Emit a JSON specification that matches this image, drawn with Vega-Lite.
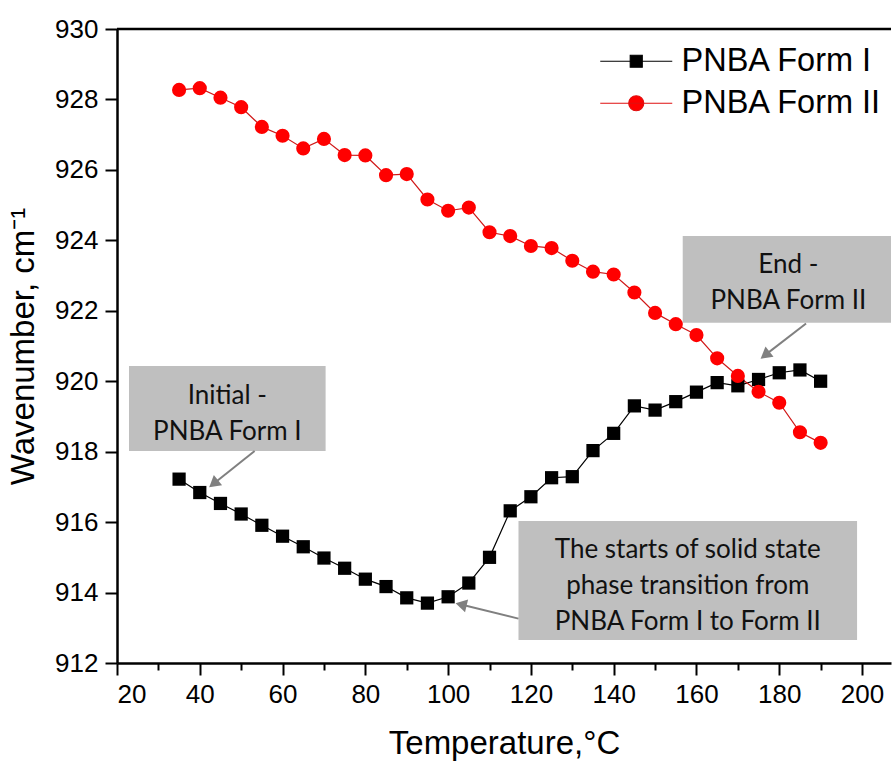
{
  "$schema": "https://vega.github.io/schema/vega-lite/v6.json",
  "width": 774,
  "height": 634,
  "autosize": {"type": "none"},
  "padding": {"left": 117, "top": 29, "right": 1, "bottom": 99},
  "background": "white",
  "config": {
    "view": {"stroke": null},
    "font": "Liberation Sans",
    "axis": {
      "domainColor": "black",
      "domainWidth": 2.5,
      "tickColor": "black",
      "tickWidth": 2,
      "grid": false,
      "labelFont": "Liberation Sans",
      "labelFontSize": 26,
      "labelColor": "black",
      "titleFont": "Liberation Sans",
      "titleFontSize": 33,
      "titleFontWeight": "normal",
      "titleColor": "black"
    }
  },
  "datasets": {
    "spectra": [
      {"T": 35, "W": 917.22, "form": "PNBA Form I"},
      {"T": 40, "W": 916.84, "form": "PNBA Form I"},
      {"T": 45, "W": 916.53, "form": "PNBA Form I"},
      {"T": 50, "W": 916.23, "form": "PNBA Form I"},
      {"T": 55, "W": 915.91, "form": "PNBA Form I"},
      {"T": 60, "W": 915.60, "form": "PNBA Form I"},
      {"T": 65, "W": 915.30, "form": "PNBA Form I"},
      {"T": 70, "W": 914.98, "form": "PNBA Form I"},
      {"T": 75, "W": 914.69, "form": "PNBA Form I"},
      {"T": 80, "W": 914.38, "form": "PNBA Form I"},
      {"T": 85, "W": 914.17, "form": "PNBA Form I"},
      {"T": 90, "W": 913.85, "form": "PNBA Form I"},
      {"T": 95, "W": 913.70, "form": "PNBA Form I"},
      {"T": 100, "W": 913.88, "form": "PNBA Form I"},
      {"T": 105, "W": 914.27, "form": "PNBA Form I"},
      {"T": 110, "W": 915.00, "form": "PNBA Form I"},
      {"T": 115, "W": 916.32, "form": "PNBA Form I"},
      {"T": 120, "W": 916.72, "form": "PNBA Form I"},
      {"T": 125, "W": 917.26, "form": "PNBA Form I"},
      {"T": 130, "W": 917.29, "form": "PNBA Form I"},
      {"T": 135, "W": 918.03, "form": "PNBA Form I"},
      {"T": 140, "W": 918.52, "form": "PNBA Form I"},
      {"T": 145, "W": 919.30, "form": "PNBA Form I"},
      {"T": 150, "W": 919.18, "form": "PNBA Form I"},
      {"T": 155, "W": 919.42, "form": "PNBA Form I"},
      {"T": 160, "W": 919.69, "form": "PNBA Form I"},
      {"T": 165, "W": 919.96, "form": "PNBA Form I"},
      {"T": 170, "W": 919.87, "form": "PNBA Form I"},
      {"T": 175, "W": 920.05, "form": "PNBA Form I"},
      {"T": 180, "W": 920.24, "form": "PNBA Form I"},
      {"T": 185, "W": 920.32, "form": "PNBA Form I"},
      {"T": 190, "W": 920.00, "form": "PNBA Form I"},
      {"T": 35, "W": 928.27, "form": "PNBA Form II"},
      {"T": 40, "W": 928.32, "form": "PNBA Form II"},
      {"T": 45, "W": 928.05, "form": "PNBA Form II"},
      {"T": 50, "W": 927.78, "form": "PNBA Form II"},
      {"T": 55, "W": 927.22, "form": "PNBA Form II"},
      {"T": 60, "W": 926.97, "form": "PNBA Form II"},
      {"T": 65, "W": 926.61, "form": "PNBA Form II"},
      {"T": 70, "W": 926.88, "form": "PNBA Form II"},
      {"T": 75, "W": 926.42, "form": "PNBA Form II"},
      {"T": 80, "W": 926.41, "form": "PNBA Form II"},
      {"T": 85, "W": 925.85, "form": "PNBA Form II"},
      {"T": 90, "W": 925.88, "form": "PNBA Form II"},
      {"T": 95, "W": 925.16, "form": "PNBA Form II"},
      {"T": 100, "W": 924.84, "form": "PNBA Form II"},
      {"T": 105, "W": 924.93, "form": "PNBA Form II"},
      {"T": 110, "W": 924.23, "form": "PNBA Form II"},
      {"T": 115, "W": 924.12, "form": "PNBA Form II"},
      {"T": 120, "W": 923.84, "form": "PNBA Form II"},
      {"T": 125, "W": 923.78, "form": "PNBA Form II"},
      {"T": 130, "W": 923.42, "form": "PNBA Form II"},
      {"T": 135, "W": 923.11, "form": "PNBA Form II"},
      {"T": 140, "W": 923.03, "form": "PNBA Form II"},
      {"T": 145, "W": 922.52, "form": "PNBA Form II"},
      {"T": 150, "W": 921.94, "form": "PNBA Form II"},
      {"T": 155, "W": 921.62, "form": "PNBA Form II"},
      {"T": 160, "W": 921.31, "form": "PNBA Form II"},
      {"T": 165, "W": 920.65, "form": "PNBA Form II"},
      {"T": 170, "W": 920.15, "form": "PNBA Form II"},
      {"T": 175, "W": 919.70, "form": "PNBA Form II"},
      {"T": 180, "W": 919.39, "form": "PNBA Form II"},
      {"T": 185, "W": 918.55, "form": "PNBA Form II"},
      {"T": 190, "W": 918.25, "form": "PNBA Form II"}
    ],
    "notes": [
      {"x1": 22.9, "x2": 70.4, "y1": 918.02, "y2": 920.43, "tx": 46.66, "ty": 919.59, "label": "Initial -\nPNBA Form I"},
      {"x1": 156.68, "x2": 207, "y1": 921.66, "y2": 924.12, "tx": 182.2, "ty": 923.3, "label": "End -\nPNBA Form II"},
      {"x1": 117.0, "x2": 198.8, "y1": 912.65, "y2": 916.03, "tx": 157.9, "ty": 915.2, "label": "The starts of solid state\nphase transition from\nPNBA Form I to Form II"}
    ],
    "arrows": [
      {"x1": 53.25, "y1": 918.02, "x2": 43.33, "y2": 917.09, "ang": 231},
      {"x1": 186.48, "y1": 921.64, "x2": 176.57, "y2": 920.74, "ang": 232},
      {"x1": 117.0, "y1": 913.26, "x2": 103.13, "y2": 913.66, "ang": 283.5}
    ]
  },
  "layer": [
    {
      "data": {"name": "spectra"},
      "transform": [{"filter": "datum.form === 'PNBA Form I'"}],
      "mark": {"type": "line", "strokeWidth": 1.2, "color": "#000000"},
      "encoding": {
        "x": {
          "field": "T",
          "type": "quantitative",
          "scale": {"domain": [20, 207], "nice": false, "zero": false},
          "axis": {
            "title": "Temperature,°C",
            "values": [20, 30, 40, 50, 60, 70, 80, 90, 100, 110, 120, 130, 140, 150, 160, 170, 180, 190, 200],
            "labelExpr": "datum.value % 20 === 0 ? datum.label : ''",
            "tickSize": {"condition": {"test": "datum.value % 20 === 0", "value": 12}, "value": 7},
            "labelPadding": 6,
            "titlePadding": 20
          }
        },
        "y": {
          "field": "W",
          "type": "quantitative",
          "scale": {"domain": [912, 930], "nice": false, "zero": false},
          "axis": {
            "title": "Wavenumber, cm⁻¹",
            "values": [912, 913, 914, 915, 916, 917, 918, 919, 920, 921, 922, 923, 924, 925, 926, 927, 928, 929, 930],
            "labelExpr": "datum.value % 2 === 0 ? datum.label : ''",
            "tickSize": {"condition": {"test": "datum.value % 2 === 0", "value": 12}, "value": 7},
            "labelPadding": 7,
            "titlePadding": 14
          }
        }
      }
    },
    {
      "data": {"name": "spectra"},
      "transform": [{"filter": "datum.form === 'PNBA Form II'"}],
      "mark": {"type": "line", "strokeWidth": 1.2, "color": "#d01818"},
      "encoding": {
        "x": {"field": "T", "type": "quantitative"},
        "y": {"field": "W", "type": "quantitative"}
      }
    },
    {
      "data": {"name": "spectra"},
      "transform": [{"filter": "datum.form === 'PNBA Form I'"}],
      "mark": {"type": "point", "shape": "square", "filled": true, "color": "#000000", "opacity": 1, "size": 175},
      "encoding": {
        "x": {"field": "T", "type": "quantitative"},
        "y": {"field": "W", "type": "quantitative"}
      }
    },
    {
      "data": {"name": "spectra"},
      "transform": [{"filter": "datum.form === 'PNBA Form II'"}],
      "mark": {"type": "point", "shape": "circle", "filled": true, "color": "#ff0000", "opacity": 1, "size": 200},
      "encoding": {
        "x": {"field": "T", "type": "quantitative"},
        "y": {"field": "W", "type": "quantitative"}
      }
    },
    {
      "description": "legend key: line with marker for each series; the layer itself draws no points",
      "data": {"name": "spectra"},
      "transform": [{"filter": "datum.T < 0"}],
      "mark": {"type": "point", "filled": true, "opacity": 1, "size": 900, "strokeWidth": 1.2},
      "encoding": {
        "x": {"field": "T", "type": "quantitative"},
        "y": {"field": "W", "type": "quantitative"},
        "shape": {
          "field": "form",
          "type": "nominal",
          "scale": {
            "domain": ["PNBA Form I", "PNBA Form II"],
            "range": ["M-2.4,0H2.4M-0.4,-0.4H0.4V0.4H-0.4Z", "M-2.4,0H2.4M0.5,0A0.5,0.5,0,1,1,-0.5,0A0.5,0.5,0,1,1,0.5,0Z"]
          },
          "legend": {
            "title": null,
            "orient": "none",
            "legendX": 503,
            "legendY": 16,
            "padding": 0,
            "labelFont": "Liberation Sans",
            "labelFontSize": 32.5,
            "labelColor": "black",
            "labelOffset": 29,
            "labelLimit": 400,
            "rowPadding": 9,
            "symbolSize": 900,
            "symbolStrokeWidth": 1.2,
            "symbolOpacity": 1
          }
        },
        "fill": {
          "field": "form",
          "type": "nominal",
          "scale": {"domain": ["PNBA Form I", "PNBA Form II"], "range": ["#000000", "#ff0000"]}
        },
        "stroke": {
          "field": "form",
          "type": "nominal",
          "scale": {"domain": ["PNBA Form I", "PNBA Form II"], "range": ["#000000", "#e01010"]}
        }
      }
    },
    {
      "data": {"values": [{"top": 930}]},
      "mark": {"type": "rule", "color": "black", "strokeWidth": 2.5},
      "encoding": {"y": {"field": "top", "type": "quantitative"}}
    },
    {
      "data": {"name": "notes"},
      "mark": {"type": "rect", "color": "#bfbfbf"},
      "encoding": {
        "x": {"field": "x1", "type": "quantitative"},
        "x2": {"field": "x2"},
        "y": {"field": "y1", "type": "quantitative"},
        "y2": {"field": "y2"}
      }
    },
    {
      "data": {"name": "notes"},
      "mark": {"type": "text", "font": "Lato", "fontSize": 26, "lineHeight": 36, "lineBreak": "\n", "align": "center", "baseline": "middle", "color": "#111111"},
      "encoding": {
        "x": {"field": "tx", "type": "quantitative"},
        "y": {"field": "ty", "type": "quantitative"},
        "text": {"field": "label"}
      }
    },
    {
      "data": {"name": "arrows"},
      "mark": {"type": "rule", "color": "#808080", "strokeWidth": 2},
      "encoding": {
        "x": {"field": "x1", "type": "quantitative"},
        "y": {"field": "y1", "type": "quantitative"},
        "x2": {"field": "x2"},
        "y2": {"field": "y2"}
      }
    },
    {
      "data": {"name": "arrows"},
      "mark": {"type": "point", "shape": "triangle-up", "filled": true, "color": "#808080", "opacity": 1, "size": 170},
      "encoding": {
        "x": {"field": "x2", "type": "quantitative"},
        "y": {"field": "y2", "type": "quantitative"},
        "angle": {"field": "ang", "type": "quantitative", "scale": null}
      }
    }
  ]
}
